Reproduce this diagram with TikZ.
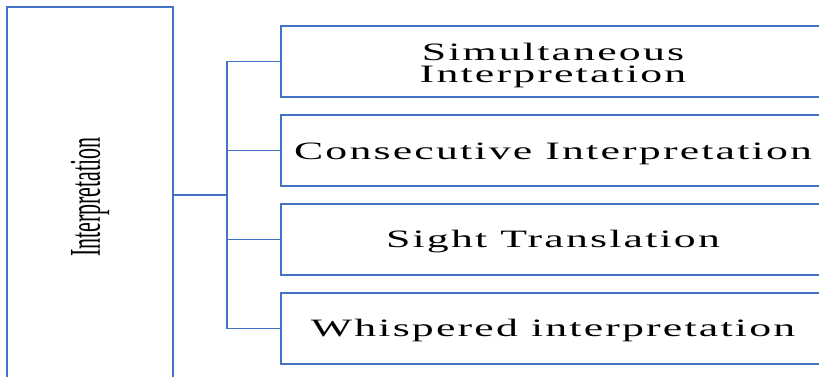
\documentclass[tikz,border=0pt]{standalone}
\usepackage{fontspec}
\usepackage{graphicx}
\setmainfont{Liberation Serif}
\newfontfamily\boxfont[LetterSpace=5]{Liberation Serif}
\newfontfamily\rootfont{Liberation Serif}
\definecolor{lineblue}{HTML}{4472C4}
\begin{document}
\begin{tikzpicture}[x=1pt,y=-1pt,
  box/.style={draw=lineblue, line width=1.5pt, rectangle, inner sep=0pt,
    minimum width=544pt, minimum height=71pt, text height=16pt, text depth=0pt,
    font=\boxfont\fontsize{25}{20.5}\selectfont},
  conn/.style={draw=lineblue, line width=1.5pt}]
\useasboundingbox (0,0) rectangle (819,377);
\clip (0,0) rectangle (819,377);
\node[draw=lineblue, line width=1.5pt, rectangle, minimum width=166pt, minimum height=400pt, inner sep=0pt] (root) at (90,207) {};
\node[font=\rootfont\fontsize{22}{24}\selectfont, inner sep=0pt] (rootlabel) at (90,197) {\rotatebox{90}{\scalebox{1}[2.0]{Interpretation}}};
\node[box, text height=43pt] (c1) at (553,61.5) {\scalebox{1.75}[1]{\begin{tabular}[b]{@{}c@{}}Simultaneous\\Interpretation\end{tabular}}};
\node[box, text height=17pt] (c2) at (553,150.5) {\scalebox{1.75}[1]{Consecutive Interpretation}};
\node[box, text height=15pt] (c3) at (553,239.5) {\scalebox{1.75}[1]{Sight Translation}};
\node[box, text height=15pt] (c4) at (553,328.5) {\scalebox{1.75}[1]{Whispered interpretation}};
\coordinate (bus) at (227,195);
\draw[conn] (root.east |- bus) -- (bus);
\draw[conn] (bus) |- (c1.west);
\draw[conn] (bus) |- (c2.west);
\draw[conn] (bus) |- (c3.west);
\draw[conn] (bus) |- (c4.west);
\end{tikzpicture}
\end{document}
